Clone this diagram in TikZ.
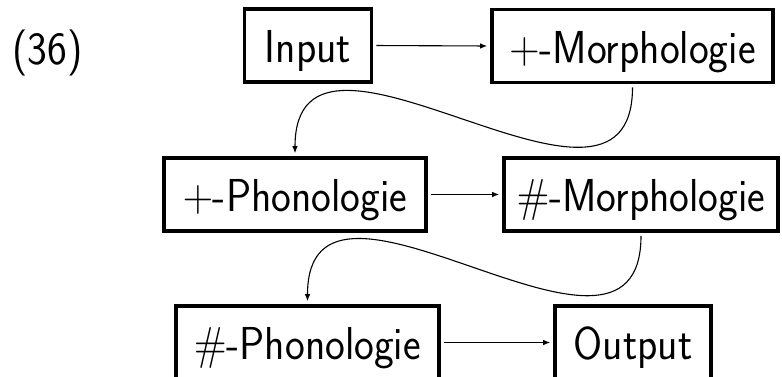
\documentclass[tikz,border=0pt]{standalone}
\usepackage{fix-cm}
\usepackage{graphicx}
\usetikzlibrary{arrows.meta}
\newcommand{\tx}[1]{\scalebox{1}[1.1]{#1}}
\begin{document}
\begin{tikzpicture}[x=1pt,y=1pt,
  font=\sffamily\fontsize{42}{50}\selectfont,
  box/.style={draw, line width=3.6pt, inner sep=0pt, text height=44pt, text depth=10pt},
  conn/.style={line width=1.1pt, -{Latex[length=7pt,width=5.5pt]}, shorten <=3pt, shorten >=3pt}]
\useasboundingbox (0,0) rectangle (782,-376);
\node[anchor=base west, inner sep=0pt] (num) at (12,-64) {\tx{(36)}};
\node[box, minimum width=127pt, minimum height=73pt] (in) at (308,-45.5) {\tx{Input}};
\node[box, minimum width=281pt, minimum height=73pt] (pm) at (632.5,-46) {\tx{$+$-Morphologie}};
\node[box, minimum width=262pt, minimum height=73pt] (pp) at (295,-194.5) {\tx{$+$-Phonologie}};
\node[box, minimum width=274pt, minimum height=73pt] (hm) at (641,-194.5) {\tx{$\#$-Morphologie}};
\node[box, minimum width=263pt, minimum height=73pt] (hp) at (307.5,-342.5) {\tx{$\#$-Phonologie}};
\node[box, minimum width=156pt, minimum height=73pt] (out) at (633,-342.5) {\tx{Output}};
\draw[conn] (in.east) -- (pm.west);
\draw[conn] (pp.east) -- (hm.west);
\draw[conn] (hp.east) -- (out.west);
\draw[conn] (pm.south) .. controls +(0,-180) and +(0,180) .. (pp.north);
\draw[conn] (hm.south) .. controls +(0,-180) and +(0,180) .. (hp.north);
\end{tikzpicture}
\end{document}
